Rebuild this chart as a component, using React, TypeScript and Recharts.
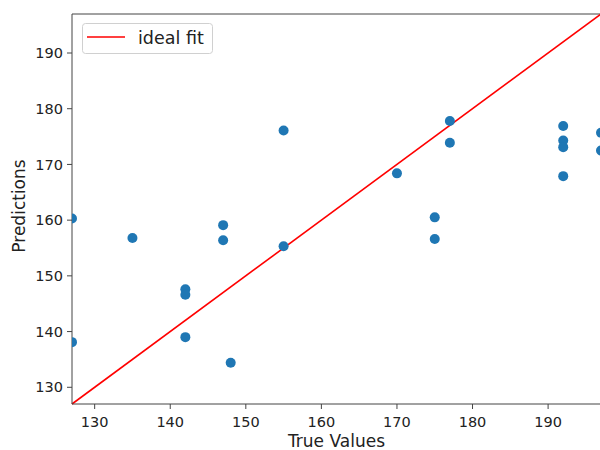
import React from "react";
import {
  ScatterChart, Scatter, XAxis, YAxis, ReferenceLine, Legend, Label,
} from "recharts";

const TRUE_VALUES = [127, 127, 135, 142, 142, 142, 147, 147, 148, 155, 155, 170, 175, 175, 177, 177, 192, 192, 192, 192, 197, 197];
const PREDICTIONS = [160.3, 138.1, 156.8, 147.6, 146.6, 139.0, 159.1, 156.4, 134.4, 176.1, 155.3, 168.4, 160.5, 156.6, 177.8, 173.9, 176.9, 174.3, 173.1, 167.9, 175.7, 172.5];
const FIT_RANGE = [127, 197];
const TICKS = [130, 140, 150, 160, 170, 180, 190];

const FONT = "'DejaVu Sans', sans-serif";
const BLUE = "#1f77b4";
const RED = "#ff0000";
const INK = "#222";

const points = TRUE_VALUES.map((x, i) => ({ x, y: PREDICTIONS[i] }));

const Dot = (p: any) => <circle cx={p.cx} cy={p.cy} r={5} fill={BLUE} />;

const LegendBox = () => (
  <svg width={131} height={31} style={{ display: "block" }}>
    <rect x={0.5} y={0.5} width={130} height={30} rx={3} fill="#fff" fillOpacity={0.8} stroke="#d0d0d0" />
    <line x1={5} x2={43} y1={14} y2={14} stroke={RED} strokeWidth={1.5} />
    <text x={56} y={20.5} fontSize={17.5} fill={INK} fontFamily={FONT}>ideal fit</text>
  </svg>
);

const YLabel = ({ viewBox }: any) => {
  const cx = 19;
  const cy = viewBox.y + viewBox.height / 2 - 3;
  return (
    <text x={cx} y={cy} transform={`rotate(-90 ${cx} ${cy})`} textAnchor="middle" dominantBaseline="central"
      fontSize={17} fill={INK} fontFamily={FONT}>
      Predictions
    </text>
  );
};

export default function App() {
  const tick = { fill: INK, fontSize: 14.5, fontFamily: FONT };
  return (
    <div style={{ position: "absolute", left: 0, top: 0, width: 600, height: 450, overflow: "hidden", background: "#fff" }}>
      <ScatterChart width={620} height={450} margin={{ top: 14, right: 19, bottom: 0, left: 0 }}>
        <XAxis
          type="number"
          dataKey="x"
          domain={FIT_RANGE}
          ticks={TICKS}
          allowDataOverflow
          height={46}
          tick={tick}
          tickSize={5}
          tickMargin={8}
          stroke="#444"
          tickLine={{ stroke: "#444" }}
        >
          <Label value="True Values" position="insideBottom" offset={3} fontSize={17} fill={INK} fontFamily={FONT} />
        </XAxis>
        <YAxis
          type="number"
          dataKey="y"
          domain={FIT_RANGE}
          ticks={TICKS}
          allowDataOverflow
          width={72}
          tick={tick}
          tickSize={5}
          tickMargin={4}
          stroke="#444"
          tickLine={{ stroke: "#444" }}
        >
          <Label content={<YLabel />} />
        </YAxis>
        <ReferenceLine y={FIT_RANGE[1]} stroke="#444" strokeWidth={1} />
        <Scatter data={points} shape={Dot} isAnimationActive={false} legendType="none" />
        <ReferenceLine
          segment={[{ x: FIT_RANGE[0], y: FIT_RANGE[0] }, { x: FIT_RANGE[1], y: FIT_RANGE[1] }]}
          stroke={RED}
          strokeWidth={1.6}
        />
        <Legend
          content={<LegendBox />}
          layout="horizontal"
          verticalAlign="middle"
          align="center"
          wrapperStyle={{ left: 82, top: 23, width: 131, height: 31, lineHeight: 0 }}
        />
      </ScatterChart>
    </div>
  );
}
